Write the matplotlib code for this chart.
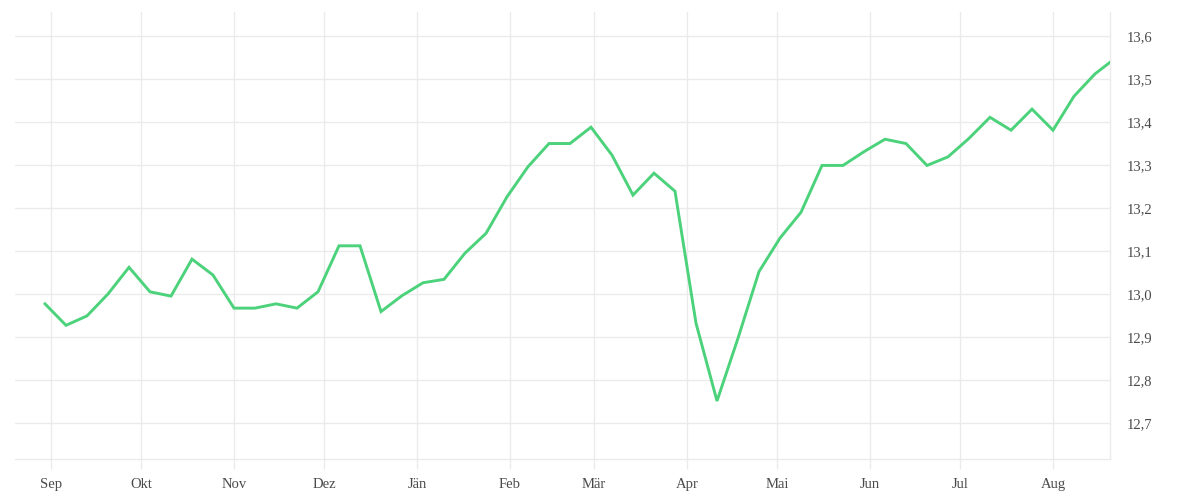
import matplotlib
matplotlib.use("Agg")
import matplotlib.pyplot as plt
import matplotlib.ticker as mticker
import matplotlib.transforms as mtransforms
import pandas as pd

# weekly values, plus one final point a few days after the last full week
dates = list(pd.date_range("2022-08-30", periods=51, freq="7D")) + [pd.Timestamp("2023-08-20")]
values = [12.977, 12.927, 12.949, 13.000, 13.062, 13.005, 12.995, 13.081, 13.044, 12.967,
          12.967, 12.977, 12.967, 13.005, 13.112, 13.112, 12.959, 12.996, 13.026, 13.034,
          13.095, 13.141, 13.226, 13.296, 13.350, 13.350, 13.388, 13.323, 13.230, 13.281,
          13.239, 12.932, 12.751, 12.897, 13.052, 13.130, 13.190, 13.299, 13.299, 13.331,
          13.360, 13.350, 13.299, 13.319, 13.362, 13.411, 13.381, 13.430, 13.381, 13.460,
          13.512, 13.539]

month_ticks = pd.date_range("2022-09-01", "2023-08-01", freq="MS")
month_labels = ["Sep", "Okt", "Nov", "Dez", "Jän", "Feb", "Mär", "Apr", "Mai", "Jun", "Jul", "Aug"]
y_ticks = [12.7, 12.8, 12.9, 13.0, 13.1, 13.2, 13.3, 13.4, 13.5, 13.6]

plt.rcParams['font.family'] = ['Liberation Serif', 'DejaVu Serif']
grid_col = "#ebebeb"
text_col = "#4a4a4a"

fig = plt.figure(figsize=(12, 5), dpi=100)
ax = fig.add_axes([0.0125, 0.082, 0.9125, 0.894])

ax.plot(dates, values, color="#4cd27b", lw=2.1, solid_joinstyle="miter", zorder=3)

ax.set_xlim(pd.Timestamp("2022-08-20"), pd.Timestamp("2023-08-20"))
ax.set_ylim(12.616, 13.656)

ax.set_xticks(month_ticks)
ax.set_xticklabels(month_labels)
ax.set_yticks(y_ticks)
ax.yaxis.set_major_formatter(mticker.FuncFormatter(lambda v, p: f"{v:.1f}".replace(".", ",")))
ax.yaxis.tick_right()

ax.grid(True, color=grid_col, lw=1.0)
ax.set_axisbelow(True)

for side in ["top", "left"]:
    ax.spines[side].set_visible(False)
for side in ["bottom", "right"]:
    ax.spines[side].set_color(grid_col)
    ax.spines[side].set_linewidth(1.0)

ax.tick_params(axis="x", length=7, width=1.0, color=grid_col, labelsize=10.5,
               labelcolor=text_col, pad=7)
ax.tick_params(axis="y", length=0, labelsize=10.5, labelcolor=text_col, pad=12)
shift = mtransforms.ScaledTranslation(0, -2 / 100, fig.dpi_scale_trans)
for lbl in ax.get_yticklabels():
    lbl.set_verticalalignment("center")
    lbl.set_transform(lbl.get_transform() + shift)

fig.savefig("out.png", dpi=100, facecolor="white")
